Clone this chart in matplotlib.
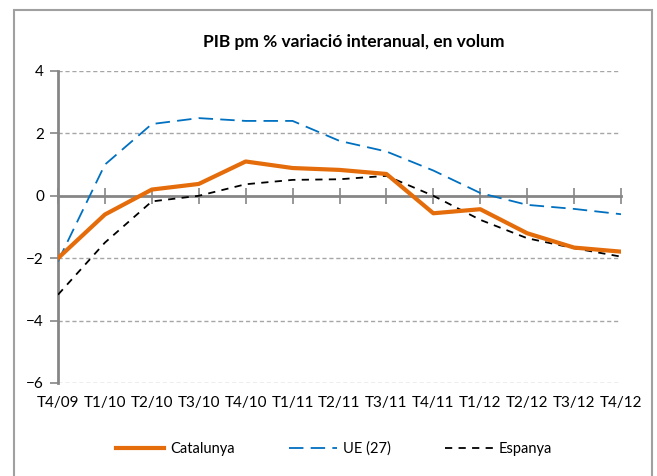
import numpy as np
import matplotlib.pyplot as plt
from matplotlib.patches import Rectangle

plt.rcParams['font.family'] = ['Lato', 'DejaVu Sans']

# Quarters and series (% change year on year, volume)
quarters = ['T4/09', 'T1/10', 'T2/10', 'T3/10', 'T4/10', 'T1/11', 'T2/11',
            'T3/11', 'T4/11', 'T1/12', 'T2/12', 'T3/12', 'T4/12']
catalunya = [-2.0, -0.6, 0.2, 0.38, 1.1, 0.89, 0.83, 0.7, -0.56, -0.43, -1.2, -1.66, -1.79]
ue27 = [-2.1, 1.0, 2.3, 2.49, 2.4, 2.4, 1.76, 1.42, 0.81, 0.09, -0.29, -0.42, -0.59]
espanya = [-3.17, -1.5, -0.18, 0.0, 0.37, 0.51, 0.53, 0.64, 0.0, -0.77, -1.36, -1.68, -1.95]
yticks = [-6, -4, -2, 0, 2, 4]

W, H = 657, 476
fig = plt.figure(figsize=(W / 100, H / 100), dpi=100)
ax = fig.add_axes([58 / W, 1 - 383 / H, (621 - 58) / W, (383 - 71) / H])

x = np.arange(len(quarters))
grey = '#868686'

# gridlines (0 is the axis line itself)
for yv in yticks:
    if yv != 0:
        ax.axhline(yv, color='#A6A6A6', lw=1, ls=(0, (3, 2)), zorder=1)

ax.plot(x, catalunya, color='#E46C0A', lw=3, label='Catalunya', zorder=4)
ax.plot(x, ue27, color='#0070C0', lw=1.3, ls=(0, (8, 4)), label='UE (27)', zorder=3)
ax.plot(x, espanya, color='black', lw=1.3, ls=(0, (4, 3.5)), label='Espanya', zorder=3)

ax.set_xlim(0, len(quarters) - 1)
ax.set_ylim(-6, 4)
ax.set_yticks(yticks)
ax.tick_params(axis='y', length=6, width=1.2, color=grey, labelsize=11, pad=4)

# category axis crosses at 0, labels sit at the bottom
ax.spines['bottom'].set_position(('data', 0))
ax.spines['bottom'].set_color(grey)
ax.spines['bottom'].set_linewidth(2)
ax.set_xticks(x)
ax.set_xticklabels([])
ax.tick_params(axis='x', direction='inout', length=11, width=1.2, color=grey)
for s in ['top', 'right']:
    ax.spines[s].set_visible(False)
ax.spines['left'].set_color(grey)
ax.spines['left'].set_linewidth(2)

sec = ax.secondary_xaxis('bottom')
sec.set_xticks(x)
sec.set_xticklabels(quarters, fontsize=11)
sec.tick_params(length=0, pad=9)
sec.spines['bottom'].set_visible(False)

fig.text(354 / W, 1 - 42 / H, 'PIB pm % variació interanual, en volum',
         ha='center', va='center', fontsize=12.5, fontweight='bold')

fig.legend(loc='center', bbox_to_anchor=(334 / W, 1 - 449 / H), ncol=3, frameon=False,
           fontsize=10.5, handlelength=3.3, columnspacing=3.7, handletextpad=0.4)

# chart area border
fig.patches.append(Rectangle((14 / W, -0.1), (652 - 14) / W, 1.1 - 10 / H,
                             transform=fig.transFigure, fill=False,
                             edgecolor='#A0A0A0', lw=1.5, clip_on=False))

fig.savefig('out.png', dpi=100)
